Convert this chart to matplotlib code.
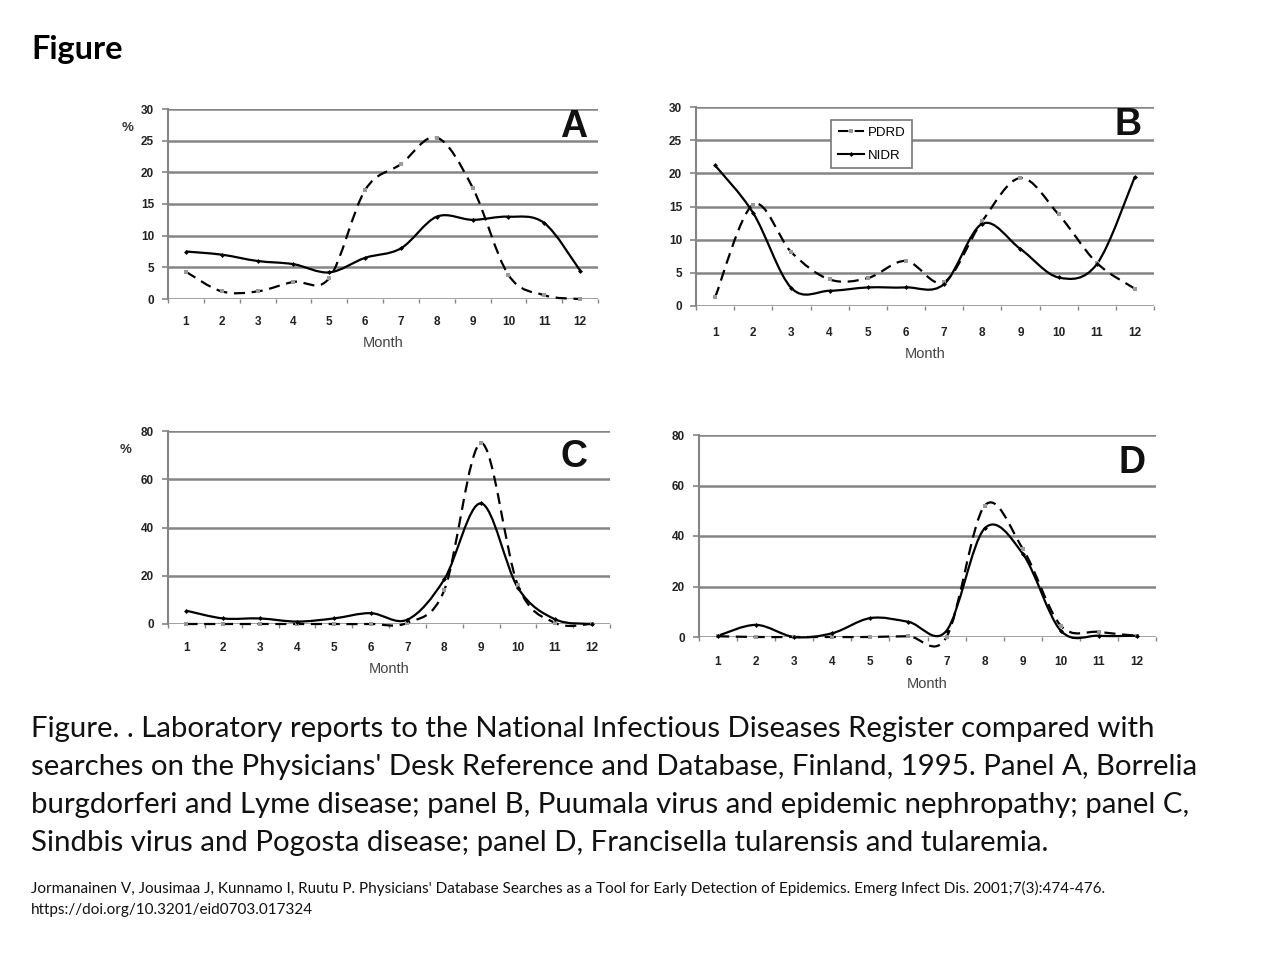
import numpy as np
import matplotlib
matplotlib.use("Agg")
import matplotlib.pyplot as plt
from matplotlib.path import Path
from matplotlib.patches import PathPatch
from matplotlib.lines import Line2D

## data (percent of yearly total per month)
months = list(range(1, 13))

pdrd_a = [4.3, 1.2, 1.2, 2.7, 3.3, 17.2, 21.3, 25.5, 17.6, 3.8, 0.6, 0.0]
nidr_a = [7.5, 7.0, 6.0, 5.5, 4.2, 6.5, 8.0, 13.0, 12.5, 13.0, 12.0, 4.5]

pdrd_b = [1.3, 15.3, 8.1, 4.0, 4.2, 6.8, 3.6, 12.8, 19.3, 13.8, 6.5, 2.6]
nidr_b = [21.2, 14.0, 2.7, 2.3, 2.8, 2.8, 3.3, 12.4, 8.6, 4.3, 6.3, 19.5]

pdrd_c = [0.0, 0.0, 0.0, 0.0, 0.0, 0.0, 0.5, 14.0, 75.0, 16.0, 0.5, 0.0]
nidr_c = [5.5, 2.3, 2.3, 1.0, 2.3, 4.5, 1.8, 18.5, 50.0, 15.0, 2.0, 0.0]

pdrd_d = [0.3, 0.0, 0.0, 0.0, 0.0, 0.3, 0.0, 52.0, 35.0, 4.5, 2.0, 0.5]
nidr_d = [0.5, 4.8, 0.0, 1.5, 7.5, 6.0, 2.5, 43.0, 33.0, 2.5, 0.5, 0.5]

W, H = 1280., 960.
GRID = '#858585'
TICKFONT = dict(family='Liberation Sans', weight='bold', size=8.5, color='#222222')

fig = plt.figure(figsize=(12.8, 9.6), dpi=100)


def smooth_path(xs, ys):
  # excel-style smoothed line: bezier segments through every point
  xs = np.asarray(xs, float)
  ys = np.asarray(ys, float)
  n = len(xs)
  verts = [(xs[0], ys[0])]
  codes = [Path.MOVETO]
  for i in range(n - 1):
    i0 = max(i - 1, 0)
    i3 = min(i + 2, n - 1)
    c1 = (xs[i] + (xs[i+1] - xs[i0]) / 6., ys[i] + (ys[i+1] - ys[i0]) / 6.)
    c2 = (xs[i+1] - (xs[i3] - xs[i]) / 6., ys[i+1] - (ys[i3] - ys[i]) / 6.)
    verts += [c1, c2, (xs[i+1], ys[i+1])]
    codes += [Path.CURVE4] * 3
  return Path(verts, codes)


def panel(box, pdrd, nidr, ymax, ystep, letter, letter_xy, xpad, pct=False):
  l, r, t, b = box
  ax = fig.add_axes([l / W, 1 - b / H, (r - l) / W, (b - t) / H])
  ax.set_xlim(0.5, 12.5)
  ax.set_ylim(0, ymax)
  yt = np.arange(0, ymax + 1, ystep)
  ax.set_yticks(yt)
  ax.set_yticklabels(['%d' % v for v in yt], fontdict=TICKFONT)
  ax.set_xticks(months)
  ax.set_xticklabels([str(m) for m in months], fontdict=TICKFONT)
  ax.set_xticks(np.arange(0.5, 13, 1.0), minor=True)
  ax.tick_params(axis='x', which='major', length=0, pad=xpad)
  ax.tick_params(axis='x', which='minor', length=3, width=1, color=GRID, direction='out')
  ax.tick_params(axis='y', length=4, width=1.2, color=GRID, pad=6)
  for s in ['top', 'right', 'bottom']:
    ax.spines[s].set_visible(False)
  ax.spines['left'].set_color(GRID)
  ax.spines['left'].set_linewidth(1.5)
  for v in yt:
    ax.axhline(v, color=GRID, lw=1.8, zorder=1)
  ax.patch.set_alpha(0)

  ax.add_patch(PathPatch(smooth_path(months, pdrd), fill=False, edgecolor='black',
                         lw=1.6, linestyle=(0, (5, 3)), zorder=3, clip_on=False))
  ax.add_patch(PathPatch(smooth_path(months, nidr), fill=False, edgecolor='black',
                         lw=1.6, zorder=4, clip_on=False))
  ax.plot(months, pdrd, ls='none', marker='s', ms=2.5, color='#9a9a9a', mew=0, zorder=5, clip_on=False)
  ax.plot(months, nidr, ls='none', marker='D', ms=2.5, color='black', mew=0, zorder=5, clip_on=False)

  ax.set_xlabel('Month', family='Liberation Sans', size=10.5, color='#444444', labelpad=6)
  fig.text(letter_xy[0] / W, 1 - letter_xy[1] / H, letter, ha='center', va='center',
           family='Liberation Sans', weight='bold', size=27, color='#111111')
  if pct:
    ax.text(-0.095, 0.9, '%', transform=ax.transAxes, ha='center', va='center',
            family='Liberation Sans', weight='bold', size=9.5, color='#333333')
  return ax


panel((168, 598, 109, 299), pdrd_a, nidr_a, 30, 5, 'A', (574, 127), 12, pct=True)
axb = panel((696, 1154, 107, 306), pdrd_b, nidr_b, 30, 5, 'B', (1128, 125), 15)
panel((168, 610, 431, 624), pdrd_c, nidr_c, 80, 20, 'C', (574, 457), 13, pct=True)
panel((699, 1156, 435, 637), pdrd_d, nidr_d, 80, 20, 'D', (1132, 463), 14)

h1 = Line2D([], [], color='black', lw=1.5, ls=(0, (5, 3)), marker='s', ms=2.5,
            markerfacecolor='#9a9a9a', mew=0)
h2 = Line2D([], [], color='black', lw=1.5, marker='D', ms=2.5, mew=0)
leg = axb.legend([h1, h2], ['PDRD', 'NIDR'], loc='upper left',
                 bbox_to_anchor=(831 / W, 1 - 120 / H), bbox_transform=fig.transFigure,
                 prop=dict(family='Liberation Sans', size=9.5), fancybox=False,
                 framealpha=1, edgecolor='#777777', handlelength=2.0, handletextpad=0.3,
                 borderpad=0.5, labelspacing=0.8, borderaxespad=0)
leg.get_frame().set_linewidth(1.2)

fig.text(31 / W, 1 - 49 / H, 'Figure', family='Lato', weight='bold', size=23.4,
         ha='left', va='center')

caption = ("Figure. . Laboratory reports to the National Infectious Diseases Register compared with\n"
           "searches on the Physicians' Desk Reference and Database, Finland, 1995. Panel A, Borrelia\n"
           "burgdorferi and Lyme disease; panel B, Puumala virus and epidemic nephropathy; panel C,\n"
           "Sindbis virus and Pogosta disease; panel D, Francisella tularensis and tularemia.")
fig.text(31 / W, 1 - 716 / H, caption, family='Lato', size=21.2, ha='left', va='top',
         linespacing=1.57, color='#111111')

cite = ("Jormanainen V, Jousimaa J, Kunnamo I, Ruutu P. Physicians' Database Searches as a Tool for "
        "Early Detection of Epidemics. Emerg Infect Dis. 2001;7(3):474-476.\n"
        "https://doi.org/10.3201/eid0703.017324")
fig.text(31 / W, 1 - 881 / H, cite, family='Lato', size=11, ha='left', va='top',
         linespacing=1.66, color='#111111')

plt.savefig('out.png', dpi=100)
